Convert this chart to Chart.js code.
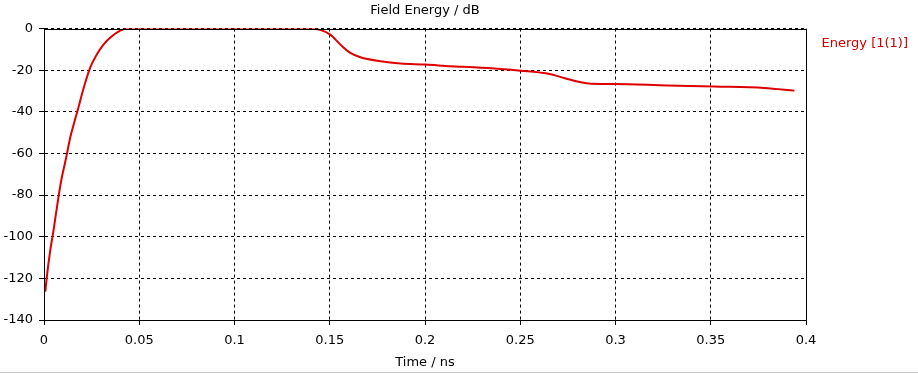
<!DOCTYPE html>
<html>
<head>
<meta charset="utf-8">
<script src="https://cdn.jsdelivr.net/npm/chart.js@4/dist/chart.umd.min.js"></script>
<style>
  html, body { margin: 0; padding: 0; background: #fff; }
  canvas { display: block; }
</style>
</head>
<body>
<canvas id="c" width="918" height="374"></canvas>
<script>
// time axis (ns) and field energy (dB)
const timeNs = [0.0007, 0.0014, 0.0032, 0.0049, 0.0075, 0.0093, 0.0116, 0.0137, 0.016, 0.018,
    0.0203, 0.0242, 0.0277, 0.0312, 0.0356, 0.04, 0.0435, 0.08, 0.12, 0.14,
    0.145, 0.1503, 0.1556, 0.1608, 0.1661, 0.1766, 0.1871, 0.2003, 0.2134, 0.2255,
    0.2397, 0.2502, 0.2642, 0.273, 0.2817, 0.287, 0.2993, 0.3273, 0.3518, 0.3781, 0.3939];
const energyDb = [-126.4, -120, -107, -97.5, -81.5, -71.8, -62.2, -52.6, -44.6, -38.2,
    -30.2, -18.9, -12.5, -7.7, -3.7, -1, 0, 0, 0, -0.1,
    -0.6, -2.9, -7.7, -11.7, -13.8, -15.7, -16.8, -17.3, -18.1, -18.6,
    -19.4, -20.2, -21.6, -23.7, -25.8, -26.5, -26.6, -27.3, -27.8, -28.5, -29.8];
const seriesName = 'Energy [1(1)]';

const font = { family: 'DejaVu Sans', size: 13 };

const frame = {
    id: 'frame',
    afterDraw(chart) {
        const { ctx, chartArea: a } = chart;
        ctx.save();
        ctx.strokeStyle = '#000';
        ctx.lineWidth = 1;
        ctx.strokeRect(Math.round(a.left) + 0.5, Math.round(a.top) + 0.5,
            Math.round(a.right - a.left), Math.round(a.bottom - a.top));
        ctx.strokeStyle = '#c8c8c8';
        ctx.beginPath();
        ctx.moveTo(0, 372.5);
        ctx.lineTo(chart.width, 372.5);
        ctx.stroke();
        ctx.restore();
    }
};

new Chart(document.getElementById('c'), {
    type: 'line',
    data: {
        datasets: [{
            label: seriesName,
            data: timeNs.map((t, i) => ({ x: t, y: energyDb[i] })),
            borderColor: '#dd0000',
            backgroundColor: '#dd0000',
            borderWidth: 2,
            pointRadius: 0,
            cubicInterpolationMode: 'monotone'
        }]
    },
    options: {
        responsive: false,
        animation: false,
        layout: { padding: { top: 0, right: 0, bottom: 0, left: 0 } },
        plugins: {
            title: {
                display: true,
                fullSize: false,
                text: 'Field Energy / dB',
                color: '#000',
                font: { ...font, weight: 'normal' },
                padding: { top: 3, bottom: 10 }
            },
            legend: {
                position: 'right',
                align: 'start',
                fullSize: false,
                labels: {
                    boxWidth: 0,
                    boxHeight: 0,
                    padding: 9,
                    color: '#cc0000',
                    font: font
                }
            },
            tooltip: { enabled: false }
        },
        scales: {
            x: {
                type: 'linear',
                min: 0,
                max: 0.4,
                afterFit: s => { s.height = 54; },
                ticks: {
                    stepSize: 0.05,
                    color: '#000',
                    font: font,
                    padding: 8,
                    maxRotation: 0,
                    callback: v => String(+v.toFixed(2))
                },
                grid: { color: '#000', tickLength: 5, tickBorderDash: [] },
                border: { color: '#000', dash: [3, 3] },
                title: { display: true, text: 'Time / ns', color: '#000', font: font, padding: { top: 0, bottom: 4 } }
            },
            y: {
                min: -140,
                max: 0,
                afterFit: s => { s.width = 44; },
                ticks: { stepSize: 20, color: '#000', font: font, padding: 6 },
                grid: { color: '#000', tickLength: 5, tickBorderDash: [] },
                border: { color: '#000', dash: [3, 3] }
            }
        }
    },
    plugins: [frame]
});
</script>
</body>
</html>
